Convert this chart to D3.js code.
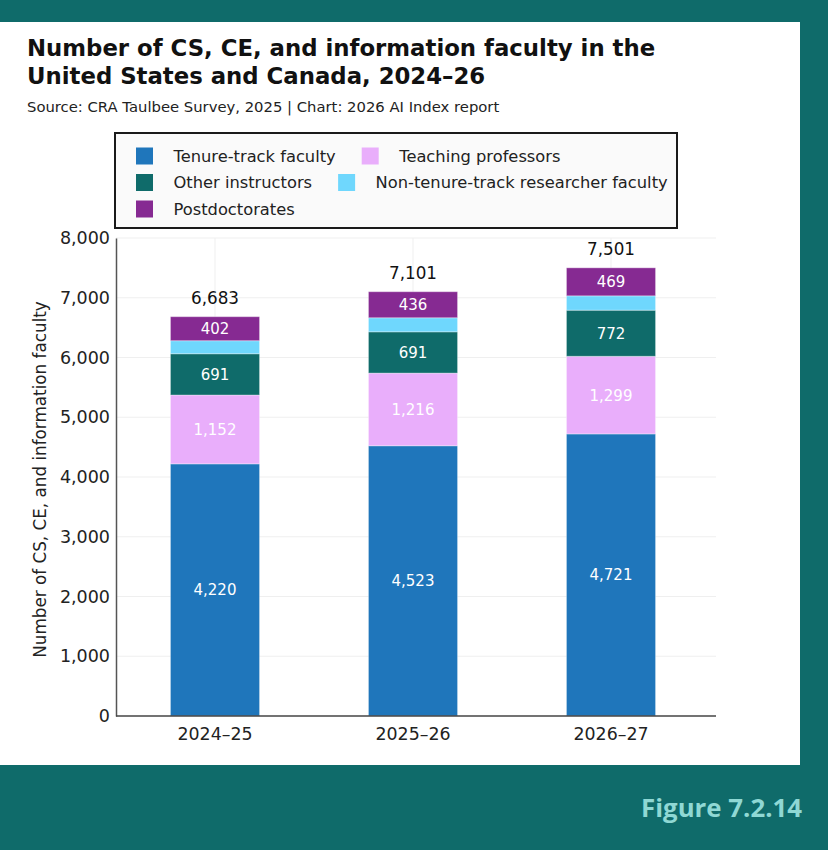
<!DOCTYPE html>
<html>
<head>
  <meta charset="utf-8">
  <script src="https://d3js.org/d3.v7.min.js"></script>
  <style>
    body { margin: 0; background: #0f6b6a; }
    svg { display: block; }
    text { font-family: 'DejaVu Sans', sans-serif; }
  </style>
</head>
<body>
  <div id="chart"></div>
  <script>
    // data
    const years = ['2024\u201325', '2025\u201326', '2026\u201327'];
    const seriesNames = ['Tenure-track faculty', 'Teaching professors', 'Other instructors',
      'Non-tenure-track researcher faculty', 'Postdoctorates'];
    const tenureTrack = [4220, 4523, 4721];
    const teachingProfs = [1152, 1216, 1299];
    const otherInstructors = [691, 691, 772];
    const nonTenureResearch = [218, 235, 240];
    const postdocs = [402, 436, 469];
    const totals = [6683, 7101, 7501];
    const yTicks = [0, 1000, 2000, 3000, 4000, 5000, 6000, 7000, 8000];

    const colors = ['#1f76bb', '#e9aefb', '#0f6b6a', '#6fd7fd', '#862a92'];
    const showLabel = [true, true, true, false, true];

    const W = 828, H = 850;
    const svg = d3.select('#chart').append('svg')
      .attr('width', W)
      .attr('height', H);

    // background + white card
    svg.append('rect').attr('width', W).attr('height', H).attr('fill', '#0f6b6a');
    svg.append('rect').attr('x', 0).attr('y', 22).attr('width', 800).attr('height', 743).attr('fill', '#fff');

    svg.append('text')
      .attr('x', 27).attr('y', 56)
      .style('font-size', '22.8px').style('font-weight', 'bold').attr('fill', '#111')
      .text('Number of CS, CE, and information faculty in the');
    svg.append('text')
      .attr('x', 27).attr('y', 83.5)
      .style('font-size', '22.8px').style('font-weight', 'bold').attr('fill', '#111')
      .text('United States and Canada, 2024\u201326');
    svg.append('text')
      .attr('x', 27).attr('y', 112)
      .style('font-size', '14.8px').attr('fill', '#222')
      .text('Source: CRA Taulbee Survey, 2025 | Chart: 2026 AI Index report');

    // legend
    const legend = svg.append('g');
    legend.append('rect')
      .attr('x', 115).attr('y', 133).attr('width', 562).attr('height', 95)
      .attr('fill', '#fafafa').attr('stroke', '#1a1a1a').attr('stroke-width', 2);

    const rows = [[0, 1], [2, 3], [4]];
    rows.forEach((row, r) => {
      let lx = 136;
      const ly = 156 + r * 26.5;
      row.forEach(i => {
        legend.append('rect')
          .attr('x', lx).attr('y', ly - 8.5).attr('width', 17).attr('height', 17)
          .attr('fill', colors[i]);
        const t = legend.append('text')
          .attr('x', lx + 37.5).attr('y', ly).attr('dy', '0.36em')
          .style('font-size', '16.3px').attr('fill', '#222')
          .text(seriesNames[i]);
        lx += 37.5 + t.node().getComputedTextLength() + 26;
      });
    });

    // scales
    const x = d3.scaleBand()
      .domain(years)
      .range([116, 710])
      .paddingInner(0.55)
      .paddingOuter(0.275);

    const y = d3.scaleLinear()
      .domain([0, 8000])
      .range([716, 238]);

    // grid
    svg.append('g').selectAll('line')
      .data(yTicks.slice(1))
      .join('line')
      .attr('x1', 116).attr('x2', 716)
      .attr('y1', d => y(d)).attr('y2', d => y(d))
      .attr('stroke', '#efefef');
    svg.append('g').selectAll('line')
      .data(years)
      .join('line')
      .attr('x1', d => x(d) + x.bandwidth() / 2).attr('x2', d => x(d) + x.bandwidth() / 2)
      .attr('y1', 238).attr('y2', 716)
      .attr('stroke', '#efefef');

    // stacked bars
    const table = years.map((yr, i) => ({
      year: yr,
      s0: tenureTrack[i], s1: teachingProfs[i], s2: otherInstructors[i],
      s3: nonTenureResearch[i], s4: postdocs[i]
    }));
    const keys = ['s0', 's1', 's2', 's3', 's4'];
    const stacked = d3.stack().keys(keys)(table);

    const layers = svg.append('g').selectAll('g')
      .data(stacked)
      .join('g')
      .attr('fill', (d, i) => colors[i]);

    layers.selectAll('rect')
      .data(d => d)
      .join('rect')
      .attr('x', d => x(d.data.year))
      .attr('width', x.bandwidth())
      .attr('y', d => y(d[1]))
      .attr('height', d => y(d[0]) - y(d[1]))
      .attr('stroke', 'rgba(255,255,255,0.35)')
      .attr('stroke-width', 1);

    layers.filter((d, i) => showLabel[i]).selectAll('text')
      .data(d => d.map(v => ({ v, key: d.key })))
      .join('text')
      .attr('x', d => x(d.v.data.year) + x.bandwidth() / 2)
      .attr('y', d => (y(d.v[0]) + y(d.v[1])) / 2)
      .attr('dy', '0.36em')
      .attr('text-anchor', 'middle')
      .attr('fill', '#fff')
      .style('font-size', '15px')
      .text(d => d3.format(',')(d.v.data[d.key]));

    // totals
    svg.append('g').selectAll('text')
      .data(years)
      .join('text')
      .attr('x', d => x(d) + x.bandwidth() / 2)
      .attr('y', (d, i) => y(totals[i]) - 13)
      .attr('text-anchor', 'middle')
      .attr('fill', '#111')
      .style('font-size', '16.8px')
      .text((d, i) => d3.format(',')(totals[i]));

    // axes
    const yAxis = svg.append('g')
      .attr('transform', 'translate(116,0)')
      .call(d3.axisLeft(y).tickValues(yTicks).tickFormat(d3.format(',')).tickSize(0).tickPadding(6));
    yAxis.select('.domain').attr('stroke', '#555').attr('stroke-width', 1.5);
    yAxis.selectAll('text').style('font-size', '17.5px').attr('fill', '#222')
      .style('font-family', "'DejaVu Sans', sans-serif");

    const xAxis = svg.append('g')
      .attr('transform', 'translate(0,716)')
      .call(d3.axisBottom(x).tickSize(0).tickPadding(11.5));
    xAxis.select('.domain').attr('stroke', '#444').attr('stroke-width', 1.5)
      .attr('d', 'M116,0H716');
    xAxis.selectAll('text').style('font-size', '17.4px').attr('fill', '#222')
      .style('font-family', "'DejaVu Sans', sans-serif");

    svg.append('text')
      .attr('transform', 'translate(45.5,479.5) rotate(-90)')
      .attr('text-anchor', 'middle')
      .style('font-size', '16.8px').attr('fill', '#222')
      .text('Number of CS, CE, and information faculty');

    svg.append('text')
      .attr('x', 802).attr('y', 817)
      .attr('text-anchor', 'end')
      .style('font-family', "'Open Sans', sans-serif")
      .style('font-size', '25.8px').style('font-weight', 'bold')
      .attr('fill', '#8fd8d4')
      .text('Figure 7.2.14');
  </script>
</body>
</html>
